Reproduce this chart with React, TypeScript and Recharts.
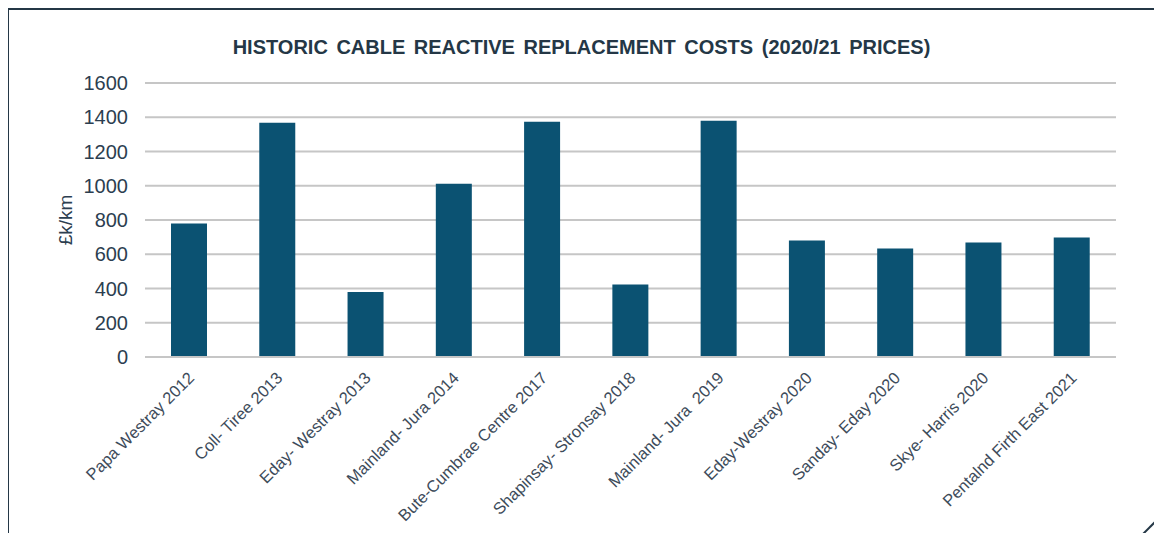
import React from 'react';
import { BarChart, Bar, XAxis, YAxis, CartesianGrid, Label } from 'recharts';

const categories = [
  'Papa Westray 2012',
  'Coll- Tiree 2013',
  'Eday- Westray 2013',
  'Mainland- Jura 2014',
  'Bute-Cumbrae Centre 2017',
  'Shapinsay- Stronsay 2018',
  'Mainland- Jura  2019',
  'Eday-Westray 2020',
  'Sanday- Eday 2020',
  'Skye- Harris 2020',
  'Pentalnd Firth East 2021',
];

const costs = [780, 1368, 380, 1012, 1374, 423, 1380, 680, 633, 668, 698];

const yTicks = [0, 200, 400, 600, 800, 1000, 1200, 1400, 1600];

const data = categories.map((name, i) => ({ name, cost: costs[i] }));

const FONT = '"Liberation Sans", Arial, sans-serif';
const DARK = '#243746';

const XTick = (props: any) => {
  const { x, y, payload } = props;
  const tx = x + 6;
  const ty = y + 22;
  return (
    <text
      x={tx}
      y={ty}
      transform={`rotate(-45, ${tx}, ${ty})`}
      textAnchor="end"
      fontSize={16.5}
      fontFamily={FONT}
      fill="#3d4b5a"
      style={{ whiteSpace: 'pre' }}
    >
      {payload.value}
    </text>
  );
};

export default function App() {
  return (
    <div style={{ position: 'relative', width: 1154, height: 525, overflow: 'hidden', fontFamily: FONT }}>
      {/* frame */}
      <div
        style={{
          position: 'absolute',
          left: -1,
          top: 0,
          width: 1200,
          height: 600,
          borderTop: `2px solid ${DARK}`,
          borderLeft: `2px solid ${DARK}`,
        }}
      />
      <svg style={{ position: 'absolute', left: 0, top: 0 }} width={1154} height={525}>
        <line x1={1135} y1={526} x2={1155} y2={506} stroke={DARK} strokeWidth={2} />
      </svg>

      <div
        style={{
          position: 'absolute',
          left: 0,
          top: 28,
          width: 1147,
          textAlign: 'center',
          fontSize: 20,
          fontWeight: 'bold',
          wordSpacing: 3,
          color: DARK,
        }}
      >
        HISTORIC CABLE REACTIVE REPLACEMENT COSTS (2020/21 PRICES)
      </div>

      <div style={{ position: 'absolute', left: 0, top: 0 }}>
        <BarChart
          width={1154}
          height={525}
          data={data}
          margin={{ top: 75, right: 46, left: 0, bottom: 6 }}
        >
          <CartesianGrid vertical={false} stroke="#c6c6c6" strokeWidth={2} />
          <XAxis
            dataKey="name"
            interval={0}
            height={170}
            tickSize={0}
            tickMargin={0}
            tickLine={false}
            axisLine={{ stroke: '#c6c6c6', strokeWidth: 2 }}
            tick={<XTick />}
          />
          <YAxis
            width={137}
            domain={[0, 1600]}
            ticks={yTicks}
            interval={0}
            tickSize={0}
            tickMargin={17}
            tickLine={false}
            axisLine={false}
            tick={{ fill: '#2c3e50', fontSize: 20, fontFamily: FONT }}
          >
            <Label
              value="£k/km"
              angle={-90}
              position="center"
              dx={-11}
              style={{ fill: '#2c3e50', fontSize: 19, fontFamily: FONT, textAnchor: 'middle' }}
            />
          </YAxis>
          <Bar dataKey="cost" fill="#0b5272" barSize={36} isAnimationActive={false} />
        </BarChart>
      </div>
    </div>
  );
}
